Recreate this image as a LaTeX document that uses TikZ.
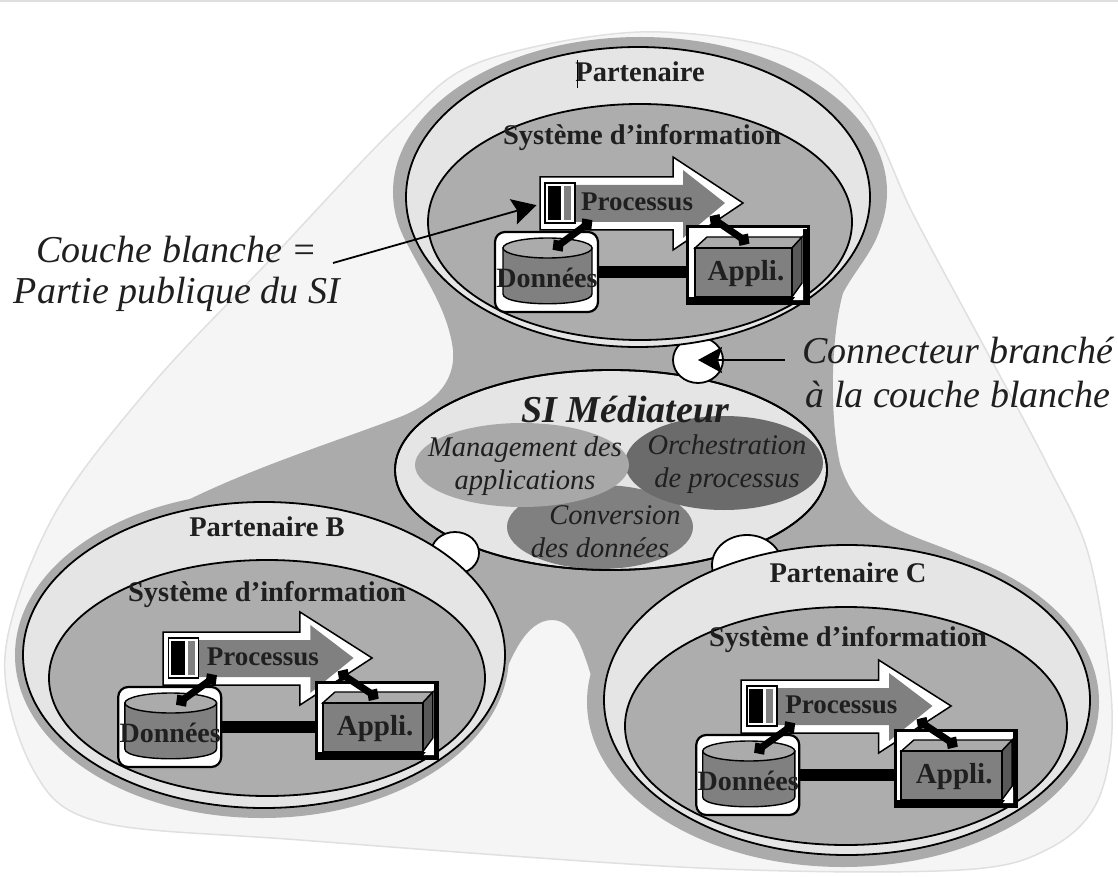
\documentclass[tikz,border=0pt]{standalone}
\usepackage{fontspec}
\setmainfont{Liberation Serif}
\usetikzlibrary{shapes.geometric,arrows.meta}
\definecolor{halo}{gray}{0.67}
\definecolor{blobf}{gray}{0.96}
\definecolor{blobe}{gray}{0.88}
\definecolor{outerf}{gray}{0.90}
\definecolor{innerf}{gray}{0.68}
\definecolor{boxf}{gray}{0.50}
\definecolor{txt}{gray}{0.12}
\definecolor{orchf}{gray}{0.42}
\definecolor{convf}{gray}{0.50}
\definecolor{mgmtf}{gray}{0.66}
\tikzset{
  oval/.style={ellipse,draw=black,line width=1.8pt,inner sep=0pt},
  topic/.style={ellipse,inner sep=0pt},
  plug/.style={ellipse,draw=black,fill=white,line width=1.8pt,inner sep=0pt},
  boldtext/.style={text=txt,inner sep=0pt,font=\fontsize{28.5}{30}\selectfont\bfseries},
  ittext/.style={text=txt,inner sep=0pt,align=center,font=\fontsize{28.5}{33}\selectfont\itshape},
  note/.style={text=txt,inner sep=0pt,align=center,font=\fontsize{38}{41}\selectfont\itshape},
  wire/.style={black,line width=7pt,{Diamond[length=14pt,width=15pt]}-{Diamond[length=14pt,width=15pt]},shorten <=-3pt,shorten >=-3pt},
  bigwire/.style={black,line width=12pt},
  callout/.style={black,line width=1.8pt,-{Stealth[length=24pt,width=26pt,inset=4pt]}},
  cylframe/.style={draw=black,fill=white,line width=2.2pt,rounded corners=10pt,inner sep=0pt},
  appframe/.style={draw=black,fill=white,line width=3pt,inner sep=0pt},
  portbox/.style={draw=black,fill=white,line width=1.6pt,inner sep=0pt,minimum width=30pt,minimum height=40pt},
}
\newcommand{\partnerbox}[4]{%
  \begin{scope}[shift={(#2,#3)},xscale=#4]
    \draw[black,line width=1.5pt,fill=white,line join=miter] (0,0)--(133,0)--(133,-20)--(203,26)--(133,73)--(133,53)--(0,53)--cycle;
    \fill[boxf] (8,8)--(143,8)--(143,-7)--(185,26)--(143,61)--(143,45)--(8,45)--cycle;
    \node[portbox] (#1port) at (20,26) {};
    \fill[black] (8,9) rectangle (21,43);
    \fill[boxf] (24,9) rectangle (31,43);
    \node[cylframe,minimum width=103pt,minimum height=80pt] (#1cyl) at (6.5,95) {};
    \draw[black,line width=1.4pt,fill=boxf] (-37,71)--(-37,117) .. controls (-37,130) and (52,130) .. (52,117)--(52,71)--cycle;
    \draw[black,line width=1.4pt,fill=halo] (7.5,71) ellipse [x radius=44.5,y radius=10];
    \node[appframe,minimum width=121pt,minimum height=76pt] (#1app) at (207.5,88) {};
    \fill[black] (263,52) rectangle (268,124);
    \fill[black] (149,120) rectangle (268,126);
    \draw[black,line width=1.4pt,fill=halo] (155,71)--(167,60)--(262,60)--(252,71)--cycle;
    \draw[black,line width=1.4pt,fill=boxf!70!black] (252,71)--(262,60)--(262,106)--(252,120)--cycle;
    \draw[black,line width=2pt,fill=boxf] (155,71) rectangle (252,120);
    \fill[white] (253,123)--(263,110)--(263,123)--cycle;
    \coordinate (#1pa) at (50,45);
    \coordinate (#1pb) at (172,41);
    \coordinate (#1ca) at (15,71);
    \coordinate (#1ab) at (207,65);
    \draw[wire] (#1pa)--(#1ca);
    \draw[wire] (#1pb)--(#1ab);
    \draw[bigwire] (#1cyl.east)--(#1cyl.east -| #1app.west);
    \node[boldtext,font=\fontsize{27}{30}\selectfont\bfseries] at (97,25) {Processus};
    \node[boldtext,font=\fontsize{28}{30}\selectfont\bfseries] at (7,101) {Données};
    \node[boldtext,font=\fontsize{29}{30}\selectfont\bfseries] at (206,97) {Appli.};
  \end{scope}%
}
\begin{document}
\begin{tikzpicture}[x=1pt,y=-1pt]
\useasboundingbox (0,0) rectangle (1118,877);
\fill[white] (0,0) rectangle (1118,877);
\fill[gray!25] (0,0) rectangle (1118,2);
% background blob
\draw[blobe,fill=blobf,line width=1.5pt] plot[smooth cycle,tension=0.55] coordinates {
 (400,123)(267,263)(150,387)(53,517)(5,656)(34,771)(100,822)(300,840)(700,868)(960,870)(1050,848)(1098,800)(1112,710)(1090,560)(1047,464)(980,339)(913,214)(863,110)(790,52)(640,32)(480,62)};
% dark hub
\fill[halo] (400,225) .. controls (410,260) and (447,300) .. (453,350)
  .. controls (456,385) and (430,405) .. (400,417)
  .. controls (340,440) and (260,465) .. (190,499)
  -- (300,600) -- (498,690)
  .. controls (510,660) and (525,620) .. (552,620)
  .. controls (578,620) and (585,660) .. (596,690)
  -- (800,600) -- (967,558)
  .. controls (920,535) and (860,530) .. (840,464)
  .. controls (830,420) and (830,340) .. (843,293)
  .. controls (855,270) and (875,250) .. (881,225) -- cycle;
\fill[halo] (640,192) ellipse [x radius=247,y radius=155];
\fill[halo] (262,655) ellipse [x radius=247,y radius=163];
\fill[halo] (843,702) ellipse [x radius=256,y radius=165];
% mediator
\node[oval,fill=outerf,minimum width=432pt,minimum height=200pt] (med) at (611,470) {};
\node[topic,fill=convf,minimum width=186pt,minimum height=84pt] (conv) at (600,527) {};
\node[topic,fill=orchf,minimum width=198pt,minimum height=94pt] (orch) at (724,463) {};
\node[topic,fill=mgmtf,minimum width=214pt,minimum height=84pt] (mgmt) at (522,465) {};
\node[oval,minimum width=432pt,minimum height=200pt] at (611,470) {};
% plugs
\node[plug,minimum width=50pt,minimum height=46pt] (plugA) at (698,360) {};
\node[plug,minimum width=48pt,minimum height=42pt] (plugB) at (455,553) {};
\node[plug,minimum width=70pt,minimum height=60pt] (plugC) at (747,565) {};
% partner A
\node[oval,fill=outerf,minimum width=464pt,minimum height=300pt] (outA) at (638,197) {};
\node[oval,fill=innerf,minimum width=424pt,minimum height=236pt] (inA) at (640,222) {};
\partnerbox{a}{540}{177}{1}
% partner B
\node[oval,fill=outerf,minimum width=482pt,minimum height=306pt] (outB) at (264,655) {};
\node[oval,fill=innerf,minimum width=436pt,minimum height=236pt] (inB) at (267,678) {};
\partnerbox{b}{163}{632}{1.03}
% partner C
\node[oval,fill=outerf,minimum width=486pt,minimum height=310pt] (outC) at (847,700) {};
\node[oval,fill=innerf,minimum width=442pt,minimum height=238pt] (inC) at (846,726) {};
\partnerbox{c}{741}{680}{1.035}
% titles
\node[boldtext] (tA) at (640,72) {Partenaire};
\draw[black,line width=1pt] (577,60)--(577,88);
\node[boldtext] (tB) at (267,527) {Partenaire B};
\node[boldtext] (tC) at (848,573) {Partenaire C};
\node[boldtext] (sA) at (642,138) {Système d’information};
\node[boldtext] (sB) at (267,595) {Système d’information};
\node[boldtext] (sC) at (848,640) {Système d’information};
% mediator labels
\node[text=txt,inner sep=0pt,font=\fontsize{38}{40}\selectfont\bfseries\itshape] (ttl) at (625,410) {SI Médiateur};
\node[ittext] (lm) at (525,466) {Management des\\applications};
\node[ittext] (lo) at (727,464) {Orchestration\\de processus};
\node[ittext] (lc) at (600,532) {\hspace*{30pt}Conversion\\des données};
% annotations
\node[note] (n1) at (177,274) {Couche blanche =\\Partie publique du SI};
\node[note] (n2) at (958,373) {Connecteur branché\\[3pt]à la couche blanche};
\coordinate (n1t) at (333,263);
\coordinate (n2t) at (785,360);
\draw[callout,shorten >=8pt] (n1t)--(aport.west);
\draw[callout] (n2t)--(plugA.center);
\end{tikzpicture}
\end{document}
